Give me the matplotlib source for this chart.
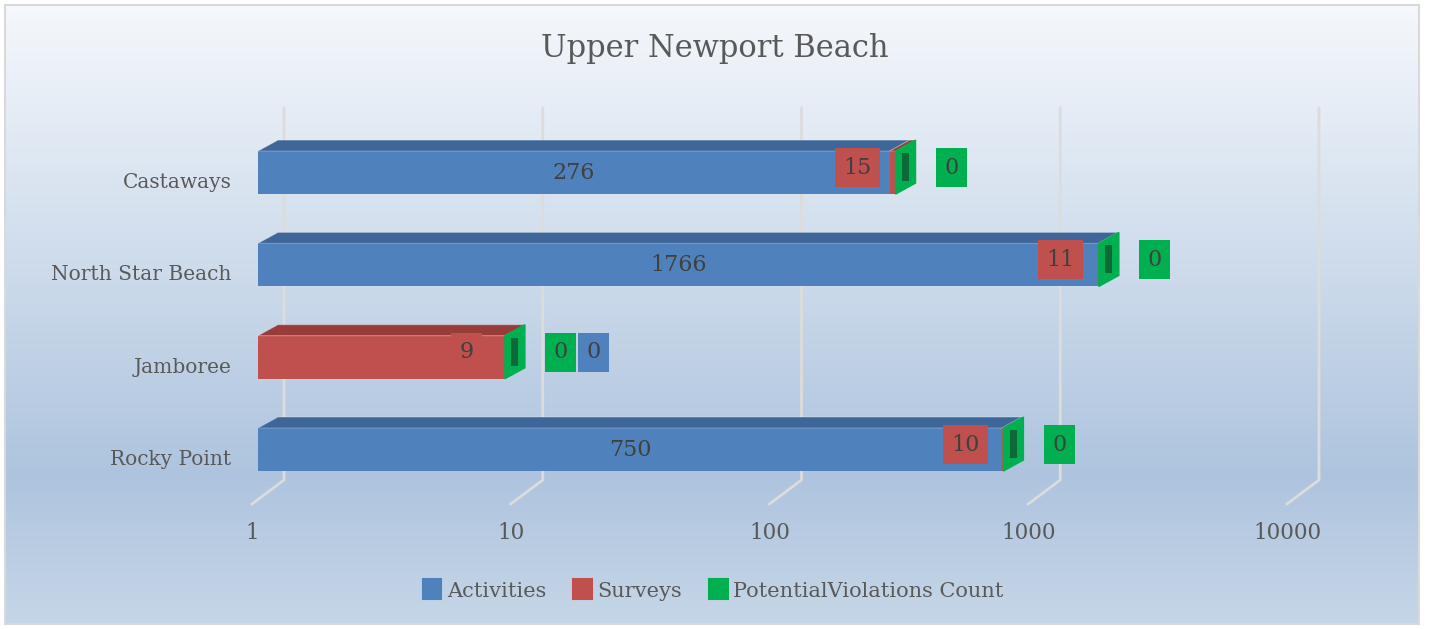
"""
Upper Newport Beach - activities / surveys / potential violations per site.
Excel-style 3D stacked bar on a log axis, redrawn with matplotlib.
"""

import numpy as np
import matplotlib
matplotlib.use('Agg')
import matplotlib.pyplot as plt
from matplotlib.patches import Polygon, Rectangle, Patch
from matplotlib.lines import Line2D
from matplotlib.transforms import ScaledTranslation, IdentityTransform
from matplotlib.colors import LinearSegmentedColormap

# data (bottom -> top)
categories = ['Rocky Point', 'Jamboree', 'North Star Beach', 'Castaways']
activities = [750, 0, 1766, 276]
surveys = [10, 9, 11, 15]
violations = [0, 0, 0, 0]
series_names = ['Activities', 'Surveys', 'PotentialViolations Count']
x_ticks = [1, 10, 100, 1000, 10000]
x_tick_labels = ['1', '10', '100', '1000', '10000']

colors = ['#4f81bd', '#c0504d', '#00b050']
top_colors = ['#3f6698', '#983c3a', '#008a3e']
TEXT = '#595959'
LABEL = '#404040'

W, H, DPI = 1429, 629, 100
DX, DY = 20, 11      # 3D depth offset, pixels
BAR_H = 0.466
PT = 72 / DPI        # pixels -> points

plt.rcParams['font.family'] = 'DejaVu Serif'

fig = plt.figure(figsize=(W / DPI, H / DPI), dpi=DPI)

# background: white outside, gradient panel inside a thin grey frame
bg = fig.add_axes([0, 0, 1, 1])
bg.set_axis_off()
cmap = LinearSegmentedColormap.from_list(
    'bg', [(0, '#f5f8fc'), (0.76, '#aec4de'), (1, '#c6d6e8')])
grad = np.linspace(0, 1, 256).reshape(-1, 1)
bg.imshow(grad, aspect='auto', cmap=cmap, extent=[5, 1419, 5, H - 5])
bg.add_patch(Rectangle((5, 5), 1414, H - 10, fill=False, edgecolor='#d9d9d9', lw=1.5))
bg.set_xlim(0, W)
bg.set_ylim(0, H)

# main axes: front plane of the bars
ax = fig.add_axes([258 / W, (H - 480) / H, 1035 / W, 372 / H])
ax.set_xscale('log')
ax.set_xlim(1, 1e4)
ax.set_ylim(-0.33, 3.70)
ax.patch.set_alpha(0)
for s in ax.spines.values():
    s.set_visible(False)
ax.minorticks_off()

ident = IdentityTransform()

# back-wall gridlines with floor diagonals
_, ybot = ax.transAxes.transform((0, 0))
_, ytop = ax.transAxes.transform((0, 1))
for t in x_ticks:
    xp, _ = ax.transData.transform((t, 0))
    ax.add_line(Line2D([xp + 26, xp + 26, xp - 6], [ytop, ybot, ybot - 24],
                       transform=ident, color='#dcdcdc', lw=2, zorder=1, clip_on=False))

ax.set_xticks(x_ticks, x_tick_labels)
ax.set_yticks(range(len(categories)), categories)
ax.tick_params(axis='x', length=0, pad=30, labelsize=15.5, labelcolor=TEXT)
ax.tick_params(axis='y', length=0, pad=19, labelsize=14.5, labelcolor=TEXT)
for lbl in ax.get_xticklabels():
    lbl.set_transform(lbl.get_transform() + ScaledTranslation(-6 / DPI, 0, fig.dpi_scale_trans))
for lbl in ax.get_yticklabels():
    lbl.set_transform(lbl.get_transform() + ScaledTranslation(0, -8 / DPI, fig.dpi_scale_trans))


def to_px(x, y):
    return ax.transData.transform((x, y))


def top_face(x0, x1, yc, color):
    (a, yt), (b, _) = to_px(x0, yc + BAR_H / 2), to_px(x1, yc + BAR_H / 2)
    ax.add_patch(Polygon([(a, yt), (b, yt), (b + DX, yt + DY), (a + DX, yt + DY)],
                         closed=True, transform=ident, facecolor=color,
                         edgecolor='#ffffff40', lw=0.8, zorder=3, clip_on=False))


def end_face(x1, yc, color):
    b, yt = to_px(x1, yc + BAR_H / 2)
    _, yb = to_px(x1, yc - BAR_H / 2)
    ax.add_patch(Polygon([(b, yb), (b + DX, yb + DY), (b + DX, yt + DY), (b, yt)],
                         closed=True, transform=ident, facecolor=color,
                         edgecolor=color, lw=1, zorder=4, clip_on=False))
    cx, cy = b + DX / 2, (yb + yt) / 2 + DY / 2
    ax.add_patch(Rectangle((cx - 3.5, cy - 14), 7, 28, transform=ident,
                           facecolor='#0d6a36', edgecolor='none', zorder=5, clip_on=False))


def box_label(text, x, yc, dx_px, color):
    ax.annotate(text, xy=(x, yc), xytext=(dx_px * PT, 5 * PT), textcoords='offset points',
                ha='center', va='center', fontsize=16, color=LABEL, zorder=6,
                bbox=dict(boxstyle='square,pad=0.38', facecolor=color, edgecolor='none'))


y = np.arange(len(categories))
cum = np.zeros(len(categories))
all_series = [activities, surveys, violations]
for k, (vals, c, tc) in enumerate(zip(all_series, colors, top_colors)):
    vals = np.array(vals, dtype=float)
    left = np.maximum(cum, 1)
    right = cum + vals
    for j in range(len(y)):
        if right[j] > left[j]:
            ax.barh(y[j], right[j] - left[j], left=left[j], height=BAR_H,
                    color=c, zorder=3)
            top_face(left[j], right[j], y[j], tc)
    cum = right

totals = np.maximum(cum, 1)
for j in range(len(y)):
    end_face(totals[j], y[j], colors[2])

# data labels
for j in range(len(y)):
    a, s, v = activities[j], surveys[j], violations[j]
    end = totals[j]
    if a > 0:
        ax.text(np.sqrt(a), y[j], str(a), ha='center', va='center', fontsize=16,
                color=LABEL, zorder=6)
    box_label(str(s), end, y[j], -38, colors[1])
    box_label(str(v), end, y[j], 56, colors[2])
    if a == 0:
        box_label(str(a), end, y[j], 89, colors[0])

fig.text(0.5, 1 - 48 / H, 'Upper Newport Beach', ha='center', va='center',
         fontsize=22, color=TEXT)

handles = [Patch(facecolor=c, edgecolor=c, joinstyle='round', lw=1.5) for c in colors]
leg = fig.legend(handles, series_names, loc='center', bbox_to_anchor=(713 / W, 1 - 590 / H),
                 ncol=3, frameon=False, fontsize=15, handlelength=0.9, handleheight=1.1,
                 handletextpad=0.25, columnspacing=1.3)
for t in leg.get_texts():
    t.set_color(TEXT)

fig.savefig('out.png', dpi=DPI)
